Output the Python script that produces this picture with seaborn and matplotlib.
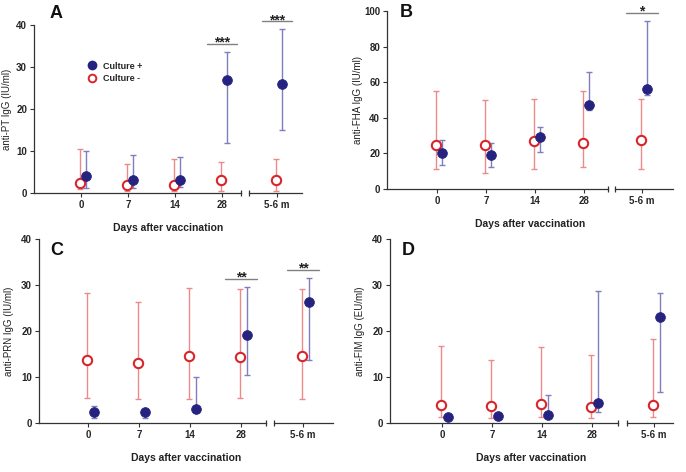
import numpy as np
import pandas as pd
import matplotlib.pyplot as plt
import seaborn as sns
from matplotlib.lines import Line2D

sns.set_style("ticks")
plt.rcParams['font.family'] = ['Liberation Sans', 'DejaVu Sans']
plt.rcParams['font.weight'] = 'bold'

days = ["0", "7", "14", "28", "5-6 m"]

# medians with lower / upper error limits
pt_pos = [4, 3, 3, 27, 26]
pt_pos_lo = [1.3, 1.2, 1.5, 12, 15]
pt_pos_hi = [10, 9, 8.5, 33.6, 39]
pt_neg = [2.5, 2, 2, 3, 3]
pt_neg_lo = [1, 0.5, 0.5, 0.5, 0.5]
pt_neg_hi = [10.5, 7, 8, 7.3, 8]

fha_pos = [20, 19, 29, 47, 56]
fha_pos_lo = [13.3, 12.1, 20.6, 44.3, 53]
fha_pos_hi = [27.5, 26, 34.6, 66, 94.6]
fha_neg = [24.5, 24.5, 27, 26, 27.5]
fha_neg_lo = [11.5, 9.2, 11.5, 12.2, 11.5]
fha_neg_hi = [55.3, 49.9, 50.8, 55.2, 50.8]

prn_pos = [2.5, 2.5, 3.1, 19.1, 26.4]
prn_pos_lo = [1, 1, 3, 10.4, 13.6]
prn_pos_hi = [3.7, 3, 10.1, 29.6, 31.5]
prn_neg = [13.6, 13.1, 14.5, 14.4, 14.6]
prn_neg_lo = [5.4, 5.2, 5.2, 5.4, 5.2]
prn_neg_hi = [28.3, 26.3, 29.3, 29.1, 29.1]

fim_pos = [1.2, 1.5, 1.7, 4.3, 23.1]
fim_pos_lo = [1.0, 1.2, 1.3, 2.5, 6.8]
fim_pos_hi = [1.4, 1.8, 6.1, 28.8, 28.3]
fim_neg = [4, 3.7, 4.2, 3.5, 3.9]
fim_neg_lo = [1.2, 1, 1.3, 1, 1.3]
fim_neg_hi = [16.7, 13.8, 16.6, 14.7, 18.3]

# significance bars: (day index, stars, height)
sig_pt = [(3, "***", 35.5), (4, "***", 40.9)]
sig_fha = [(4, "*", 99)]
sig_prn = [(3, "**", 31.3), (4, "**", 33.3)]
sig_fim = []

BLUE = "#25237f"
BLUE_ERR = "#7f7fbf"
RED = "#d7262b"
RED_ERR = "#ec8a8a"
SPINE = "#333333"

W, H = 686, 472
fig = plt.figure(figsize=(W / 100, H / 100), dpi=100)


def rect(x0, x1, top, bottom):
    return [x0 / W, 1 - bottom / H, (x1 - x0) / W, (bottom - top) / H]


def make_df(pos, pos_lo, pos_hi, neg, neg_lo, neg_hi):
    rows = []
    for i, d in enumerate(days):
        rows.append(dict(day=i, group="Culture +", value=pos[i], lo=pos_lo[i], hi=pos_hi[i]))
        rows.append(dict(day=i, group="Culture -", value=neg[i], lo=neg_lo[i], hi=neg_hi[i]))
    df = pd.DataFrame(rows)
    df["x"] = np.where(df.day < 4, df.day, 0) + np.where(df.group == "Culture +", 0.11, -0.02)
    return df


def draw(ax, sub):
    neg = sub[sub.group == "Culture -"]
    pos = sub[sub.group == "Culture +"]
    ax.errorbar(neg.x, neg.value, yerr=[neg.value - neg.lo, neg.hi - neg.value], fmt='none',
                ecolor=RED_ERR, elinewidth=1, capsize=2, capthick=1, zorder=2)
    ax.errorbar(pos.x, pos.value, yerr=[pos.value - pos.lo, pos.hi - pos.value], fmt='none',
                ecolor=BLUE_ERR, elinewidth=1, capsize=2, capthick=1, zorder=2)
    sns.scatterplot(data=neg, x="x", y="value", ax=ax, color="white", edgecolor=RED,
                    linewidth=1.5, s=45, zorder=3, legend=False)
    sns.scatterplot(data=pos, x="x", y="value", ax=ax, color=BLUE, edgecolor=BLUE,
                    linewidth=0.5, s=50, zorder=4, legend=False)


panels = [
    dict(letter="A", ylabel="anti-PT IgG (IU/ml)", ymax=40, ystep=10, sig=sig_pt,
         df=make_df(pt_pos, pt_pos_lo, pt_pos_hi, pt_neg, pt_neg_lo, pt_neg_hi),
         box=(34, 241, 249, 302, 25, 193), lim1=(-1.0, 3.4), lim2=(-0.6, 0.53),
         ylab_x=7, let=(50, 18)),
    dict(letter="B", ylabel="anti-FHA IgG (IU/ml)", ymax=100, ystep=20, sig=sig_fha,
         df=make_df(fha_pos, fha_pos_lo, fha_pos_hi, fha_neg, fha_neg_lo, fha_neg_hi),
         box=(387, 608, 615, 673, 11, 189), lim1=(-1.02, 3.49), lim2=(-0.55, 0.63),
         ylab_x=358, let=(400, 17)),
    dict(letter="C", ylabel="anti-PRN IgG (IU/ml)", ymax=40, ystep=10, sig=sig_prn,
         df=make_df(prn_pos, prn_pos_lo, prn_pos_hi, prn_neg, prn_neg_lo, prn_neg_hi),
         box=(39, 266, 274, 333, 239, 423), lim1=(-0.96, 3.49), lim2=(-0.57, 0.59),
         ylab_x=9, let=(50, 255)),
    dict(letter="D", ylabel="anti-FIM IgG (EU/ml)", ymax=40, ystep=10, sig=sig_fim,
         df=make_df(fim_pos, fim_pos_lo, fim_pos_hi, fim_neg, fim_neg_lo, fim_neg_hi),
         box=(390, 618, 627, 673, 239, 423), lim1=(-1.04, 3.52), lim2=(-0.54, 0.38),
         ylab_x=360, let=(402, 255)),
]

for p in panels:
    x0, x1, x2, x3, top, bottom = p["box"]
    ax = fig.add_axes(rect(x0, x1, top, bottom))
    ax2 = fig.add_axes(rect(x2, x3, top, bottom), sharey=ax)
    df = p["df"]
    draw(ax, df[df.day < 4])
    draw(ax2, df[df.day == 4])

    ax.set_xlim(*p["lim1"])
    ax2.set_xlim(*p["lim2"])
    ax.set_ylim(0, p["ymax"])
    ax.set_yticks(np.arange(0, p["ymax"] + 1, p["ystep"]))
    ax.set_xticks(range(4))
    ax.set_xticklabels(days[:4])
    ax2.set_xticks([0])
    ax2.set_xticklabels(days[4:])
    ax.set_xlabel("")
    ax.set_ylabel("")
    ax2.set_xlabel("")
    ax2.set_ylabel("")

    for a in (ax, ax2):
        a.set_facecolor("none")
        for s in a.spines.values():
            s.set_color(SPINE)
            s.set_linewidth(0.9)
        a.spines["top"].set_visible(False)
        a.spines["right"].set_visible(False)
        a.tick_params(labelsize=7, length=3, width=0.8, color=SPINE, pad=2)
    ax2.spines["left"].set_visible(False)
    ax2.tick_params(axis="y", left=False, labelleft=False)

    # broken axis end marks
    ax.plot([1], [0], marker="|", markersize=5, color=SPINE, mew=0.9,
            transform=ax.transAxes, clip_on=False)
    ax2.plot([0], [0], marker="|", markersize=5, color=SPINE, mew=0.9,
             transform=ax2.transAxes, clip_on=False)

    for idx, stars, y in p["sig"]:
        a = ax if idx < 4 else ax2
        c = idx if idx < 4 else 0
        a.plot([c - 0.32, c + 0.32], [y, y], color="#808080", lw=1, clip_on=False)
        a.annotate(stars, (c, y), xytext=(0, -2), textcoords="offset points",
                   ha="center", va="baseline", fontsize=10, fontweight="bold",
                   color="#222222", annotation_clip=False)

    fig.text((x0 + x3) / 2 / W, 1 - (bottom + 35) / H, "Days after vaccination",
             ha="center", va="center", fontsize=7.5, fontweight="bold", color="#222222")
    fig.text(p["ylab_x"] / W, 1 - (top + bottom) / 2 / H, p["ylabel"], rotation=90,
             ha="center", va="center", fontsize=7, fontweight="normal", color="#222222")
    fig.text(p["let"][0] / W, 1 - p["let"][1] / H, p["letter"], ha="left", va="baseline",
             fontsize=13, fontweight="bold", color="#111111")

    if p["letter"] == "A":
        handles = [
            Line2D([], [], marker="o", ls="none", markerfacecolor=BLUE, markeredgecolor=BLUE,
                   markersize=6),
            Line2D([], [], marker="o", ls="none", markerfacecolor="white", markeredgecolor=RED,
                   markeredgewidth=1.4, markersize=5.5),
        ]
        ax.legend(handles, ["Culture +", "Culture -"], loc="upper left",
                  bbox_to_anchor=(83 / W, 1 - 57 / H), bbox_transform=fig.transFigure,
                  frameon=False, borderpad=0, handlelength=1.0, handletextpad=0.7,
                  labelspacing=0.35, prop=dict(size=6.5, weight="bold"))

fig.savefig("out.png", dpi=100)
